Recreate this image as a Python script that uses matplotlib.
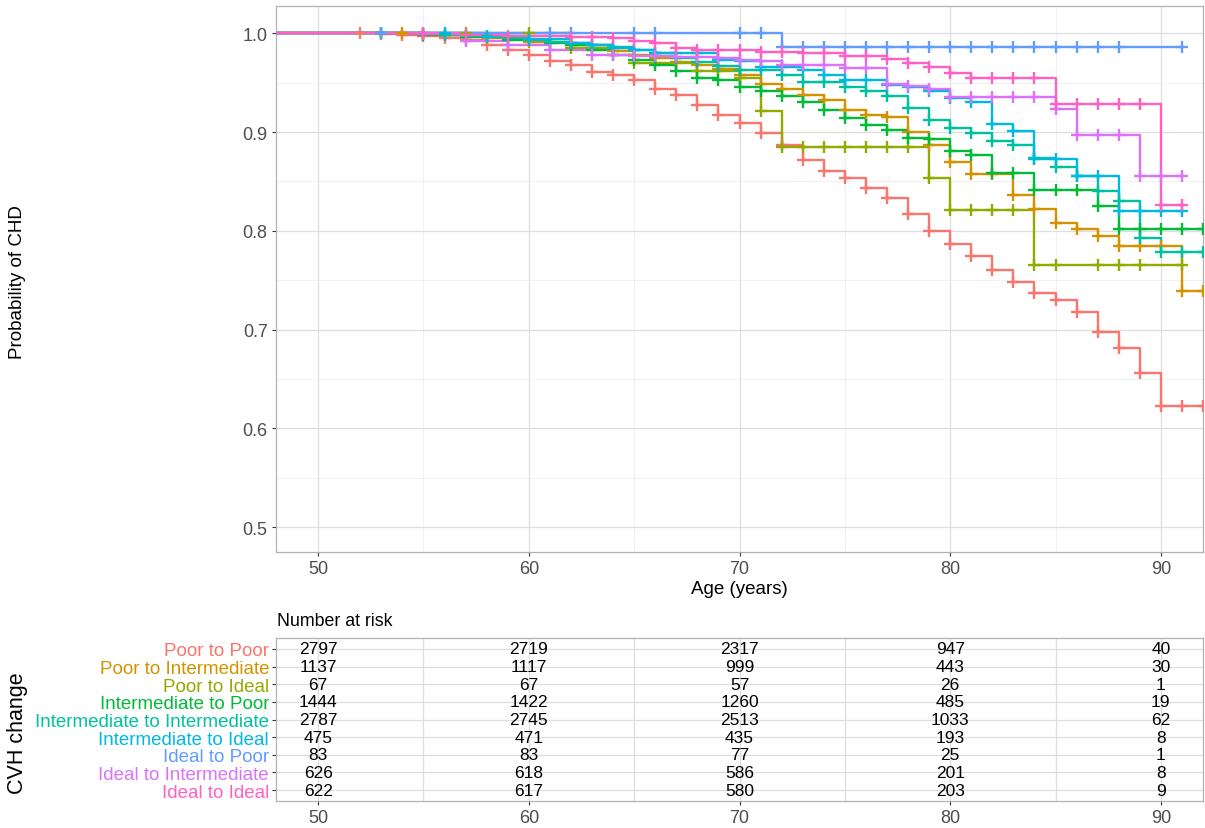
import matplotlib
matplotlib.use('Agg')

import matplotlib.pyplot as plt
import numpy as np

plt.rcParams['font.family'] = ['Liberation Sans', 'DejaVu Sans']

groups = ["Poor to Poor", "Poor to Intermediate", "Poor to Ideal",
          "Intermediate to Poor", "Intermediate to Intermediate",
          "Intermediate to Ideal", "Ideal to Poor", "Ideal to Intermediate",
          "Ideal to Ideal"]
colors = ["#F8766D", "#D39200", "#93AA00", "#00BA38", "#00C19F",
          "#00B9E3", "#619CFF", "#DB72FB", "#FF61C3"]

# step curves: ages and survival probability after each age
t_pp = [48, 52, 53, 54, 55, 56, 57, 58, 59, 60, 61, 62, 63, 64, 65, 66, 67, 68, 69, 70,
        71, 72, 73, 74, 75, 76, 77, 78, 79, 80, 81, 82, 83, 84, 85, 86, 87, 88, 89, 90, 91, 92]
s_pp = [1.0, 1.0, 0.999, 0.998, 0.997, 0.995, 0.993, 0.988, 0.983, 0.978, 0.972, 0.968,
        0.961, 0.958, 0.953, 0.944, 0.937, 0.927, 0.917, 0.909, 0.899, 0.887, 0.872, 0.861,
        0.853, 0.843, 0.833, 0.817, 0.800, 0.787, 0.775, 0.760, 0.748, 0.737, 0.730, 0.718,
        0.698, 0.681, 0.656, 0.623, 0.623, 0.623]

t_pi = [48, 54, 56, 58, 60, 62, 64, 65, 66, 67, 68, 69, 70, 71, 72, 73, 74, 75, 76, 77,
        78, 79, 80, 81, 82, 83, 84, 85, 86, 87, 88, 89, 90, 91, 92]
s_pi = [1.0, 1.0, 0.998, 0.995, 0.991, 0.988, 0.982, 0.978, 0.975, 0.971, 0.968, 0.964,
        0.958, 0.949, 0.944, 0.937, 0.932, 0.922, 0.917, 0.9155, 0.900, 0.887, 0.870, 0.858,
        0.857, 0.836, 0.8225, 0.808, 0.802, 0.795, 0.785, 0.785, 0.785, 0.739, 0.739]

t_pid = [48, 55, 57, 60, 62, 65, 66, 67, 68, 69, 70, 71, 72, 73, 74, 75, 76, 77, 78, 79,
         80, 81, 82, 83, 84, 85, 87, 88, 89, 91]
s_pid = [1.0, 1.0, 1.0, 1.0, 0.985, 0.970, 0.970, 0.970, 0.962, 0.962, 0.955, 0.921,
         0.885, 0.885, 0.885, 0.885, 0.885, 0.885, 0.885, 0.853, 0.821, 0.821, 0.821, 0.821,
         0.765, 0.765, 0.765, 0.765, 0.765, 0.765]

t_ip = [48, 53, 55, 57, 59, 61, 62, 63, 64, 65, 66, 67, 68, 69, 70, 71, 72, 73, 74, 75,
        76, 77, 78, 79, 80, 81, 82, 83, 84, 85, 86, 87, 88, 89, 90, 91, 92]
s_ip = [1.0, 1.0, 0.998, 0.996, 0.993, 0.990, 0.988, 0.983, 0.978, 0.973, 0.968, 0.962,
        0.955, 0.953, 0.946, 0.941, 0.936, 0.930, 0.922, 0.914, 0.907, 0.902, 0.894, 0.893,
        0.881, 0.877, 0.859, 0.859, 0.841, 0.841, 0.841, 0.825, 0.8015, 0.8015, 0.8015,
        0.8015, 0.8015]

t_ii = [48, 53, 55, 56, 57, 58, 59, 60, 61, 62, 63, 64, 65, 66, 67, 68, 69, 70, 71, 72,
        73, 74, 75, 76, 77, 78, 79, 80, 81, 82, 83, 84, 85, 86, 87, 88, 89, 90, 91, 92]
s_ii = [1.0, 1.0, 0.999, 0.998, 0.997, 0.996, 0.995, 0.993, 0.991, 0.990, 0.988, 0.986,
        0.983, 0.980, 0.975, 0.971, 0.967, 0.963, 0.963, 0.958, 0.951, 0.951, 0.946, 0.941,
        0.936, 0.924, 0.912, 0.904, 0.899, 0.891, 0.887, 0.873, 0.865, 0.855, 0.840, 0.830,
        0.793, 0.779, 0.779, 0.779]

t_iid = [48, 56, 58, 60, 62, 63, 64, 65, 66, 67, 68, 69, 70, 71, 72, 73, 74, 75, 76, 77,
         78, 79, 80, 81, 82, 83, 84, 85, 86, 87, 88, 89, 90, 91]
s_iid = [1.0, 1.0, 0.997, 0.994, 0.990, 0.988, 0.985, 0.983, 0.980, 0.980, 0.980, 0.973,
         0.972, 0.966, 0.966, 0.963, 0.958, 0.953, 0.953, 0.948, 0.946, 0.941, 0.934, 0.930,
         0.908, 0.901, 0.874, 0.873, 0.855, 0.855, 0.820, 0.820, 0.820, 0.820]

t_dp = [48, 53, 61, 62, 65, 66, 70, 71, 72, 73, 74, 75, 76, 77, 78, 79, 80, 81, 82, 83,
        84, 85, 86, 87, 88, 91]
s_dp = [1.0, 1.0, 1.0, 1.0, 1.0, 1.0, 1.0, 1.0, 0.9865, 0.9865, 0.9865, 0.9865, 0.9865,
        0.9865, 0.9865, 0.9865, 0.9865, 0.9865, 0.9865, 0.9865, 0.9865, 0.9865, 0.9865,
        0.9865, 0.9865, 0.9865]

t_di = [48, 55, 57, 59, 61, 63, 64, 65, 66, 67, 68, 69, 70, 71, 72, 73, 74, 75, 76, 77,
        78, 79, 80, 81, 82, 83, 84, 85, 86, 87, 88, 89, 90, 91]
s_di = [1.0, 1.0, 0.992, 0.988, 0.983, 0.978, 0.978, 0.977, 0.977, 0.976, 0.976, 0.975,
        0.973, 0.972, 0.968, 0.968, 0.968, 0.9645, 0.9645, 0.949, 0.947, 0.9435, 0.935,
        0.935, 0.935, 0.935, 0.935, 0.923, 0.897, 0.897, 0.897, 0.855, 0.855, 0.855]

t_dd = [48, 55, 57, 59, 62, 63, 64, 65, 66, 67, 68, 69, 70, 71, 72, 73, 74, 75, 76, 77,
        78, 79, 80, 81, 82, 83, 84, 85, 86, 87, 88, 89, 90, 91]
s_dd = [1.0, 0.999, 0.998, 0.997, 0.9966, 0.9966, 0.995, 0.992, 0.990, 0.985, 0.983,
        0.983, 0.983, 0.981, 0.981, 0.980, 0.980, 0.977, 0.977, 0.974, 0.970, 0.9655, 0.960,
        0.955, 0.955, 0.955, 0.955, 0.928, 0.928, 0.928, 0.928, 0.928, 0.826, 0.826]

times = [t_pp, t_pi, t_pid, t_ip, t_ii, t_iid, t_dp, t_di, t_dd]
survs = [s_pp, s_pi, s_pid, s_ip, s_ii, s_iid, s_dp, s_di, s_dd]

risk_ages = [50, 60, 70, 80, 90]
risk_pp = [2797, 2719, 2317, 947, 40]
risk_pi = [1137, 1117, 999, 443, 30]
risk_pid = [67, 67, 57, 26, 1]
risk_ip = [1444, 1422, 1260, 485, 19]
risk_ii = [2787, 2745, 2513, 1033, 62]
risk_iid = [475, 471, 435, 193, 8]
risk_dp = [83, 83, 77, 25, 1]
risk_di = [626, 618, 586, 201, 8]
risk_dd = [622, 617, 580, 203, 9]
risks = [risk_pp, risk_pi, risk_pid, risk_ip, risk_ii, risk_iid, risk_dp, risk_di, risk_dd]

W, H = 1205, 829
fig = plt.figure(figsize=(W / 100, H / 100), dpi=100)

ax1 = fig.add_axes([276 / W, 1 - 553 / H, (1203 - 276) / W, (553 - 7) / H])
ax2 = fig.add_axes([276 / W, 1 - 802 / H, (1203 - 276) / W, (802 - 639) / H])

grid_col = "#DEDEDE"
tick_col = "#4D4D4D"

for ax in (ax1, ax2):
    ax.set_facecolor("white")
    for sp in ax.spines.values():
        sp.set_color("#B3B3B3")
        sp.set_linewidth(0.9)
    ax.set_xlim(48, 92)
    ax.set_xticks(risk_ages)
    ax.set_xticks([55, 65, 75, 85], minor=True)
    ax.tick_params(axis='both', which='major', length=3, color="#333333",
                   labelsize=13, labelcolor=tick_col, pad=3)
    ax.tick_params(axis='both', which='minor', length=0)

# survival panel
ax1.set_ylim(0.475, 1.0275)
ax1.set_yticks([0.5, 0.6, 0.7, 0.8, 0.9, 1.0])
ax1.set_yticks([0.55, 0.65, 0.75, 0.85, 0.95], minor=True)
ax1.set_yticklabels(["0.5", "0.6", "0.7", "0.8", "0.9", "1.0"])
ax1.grid(True, which='major', color=grid_col, linewidth=0.9, zorder=0)
ax1.grid(True, which='minor', color="#EBEBEB", linewidth=0.5, zorder=0)

for i in range(len(groups)):
    ax1.step(times[i], survs[i], where='post', color=colors[i],
             linewidth=1.7, zorder=3)
    ax1.plot(times[i][1:], survs[i][1:], linestyle='none', marker='+',
             markersize=9, markeredgewidth=1.7, color=colors[i], zorder=4)

ax1.set_xlabel("Age (years)", fontsize=13.5, labelpad=2)
fig.text(18 / W, 1 - 282 / H, "Probability of CHD", rotation=90,
         ha='center', va='center', fontsize=13.5)

# risk table
ax2.set_ylim(len(groups) - 1 + 0.62, -0.62)
ax2.set_yticks(np.arange(len(groups)))
ax2.set_yticklabels(groups)
ax2.tick_params(axis='y', labelsize=13.5, pad=2)
for lab, c in zip(ax2.get_yticklabels(), colors):
    lab.set_color(c)
ax2.grid(True, which='major', color=grid_col, linewidth=0.9, zorder=0)
ax2.grid(True, which='minor', axis='x', color=grid_col, linewidth=0.9, zorder=0)

for i in range(len(groups)):
    for a, n in zip(risk_ages, risks[i]):
        ax2.text(a, i, str(n), ha='center', va='center', fontsize=12.5,
                 color="black", zorder=3)

fig.text(277 / W, 1 - 622 / H, "Number at risk", ha='left', va='center',
         fontsize=12.8)
fig.text(18 / W, 1 - 733 / H, "CVH change", rotation=90, ha='center',
         va='center', fontsize=15.5)

fig.savefig("out.png", dpi=100)
plt.close(fig)
